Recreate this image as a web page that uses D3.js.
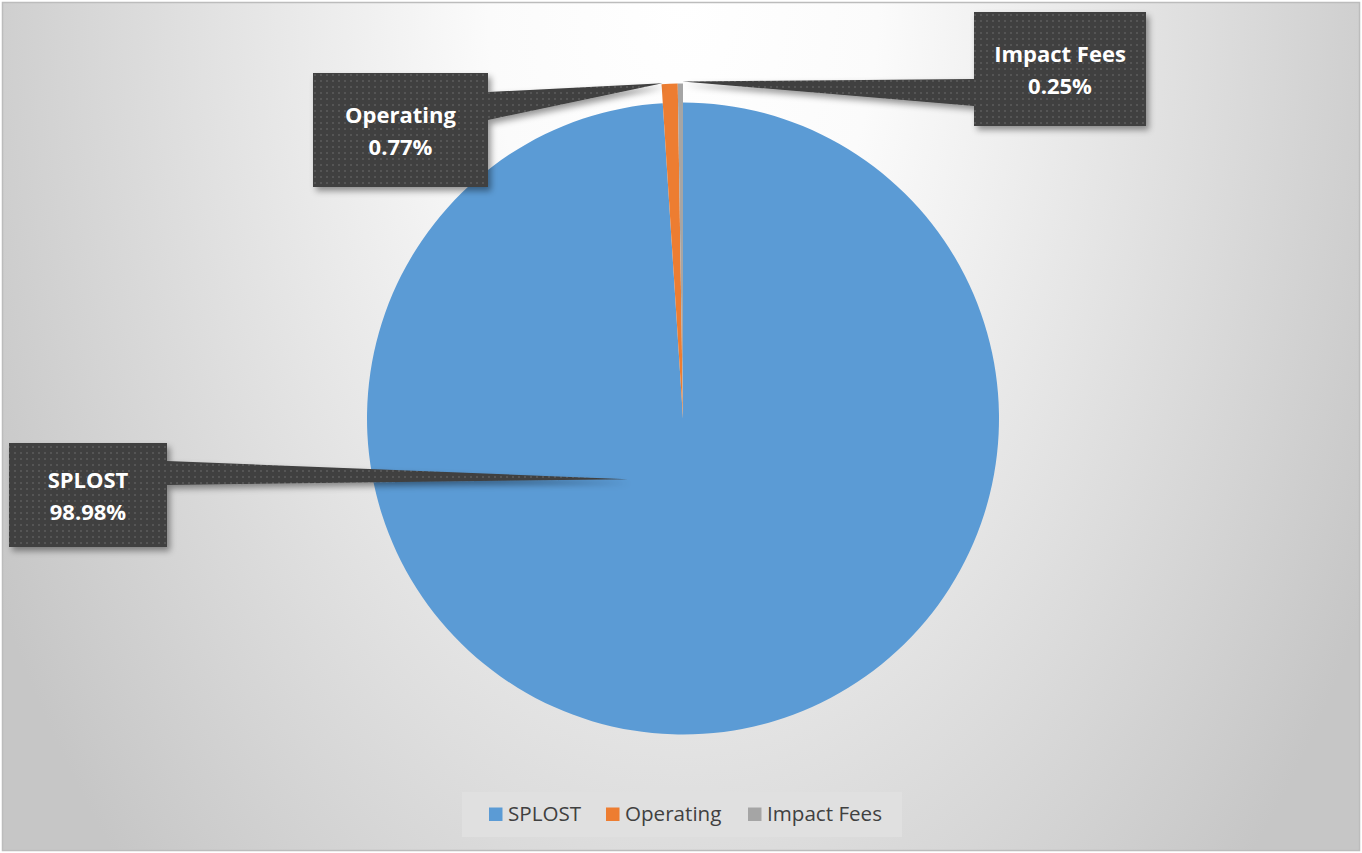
<!DOCTYPE html>
<html>
<head>
<meta charset="utf-8">
<script src="https://cdn.jsdelivr.net/npm/d3@7"></script>
<style>
  html, body { margin: 0; padding: 0; background: #ffffff; }
  svg { display: block; }
</style>
</head>
<body>
<svg id="chart" width="1362" height="853"></svg>
<script>
// ---- data ----
const categories = ["SPLOST", "Operating", "Impact Fees"];
const shares = [98.98, 0.77, 0.25];
const percentLabels = ["98.98%", "0.77%", "0.25%"];
const colors = ["#5b9bd5", "#ed7d31", "#a5a5a5"];

// ---- layout ----
const W = 1362, H = 853;
const cx = 683, cy = 418.5, R = 316, Rsmall = 335;
// label boxes: [x, y, w, h], pointer base on box side, tip given as polar (deg clockwise from top, radius)
const labelLayout = [
  { box: [9, 443, 158, 104], side: "right", base: [461, 485], tipAngle: 222.3, tipR: 82 },
  { box: [313, 73, 175, 114], side: "right", base: [92, 120], tipAngle: 356.5, tipR: 336 },
  { box: [974, 12, 172, 114], side: "left", base: [79, 106], tipAngle: 359.9, tipR: 337 }
];

const svg = d3.select("#chart");
const defs = svg.append("defs");

// background gradient
const grad = defs.append("radialGradient")
  .attr("id", "bg").attr("gradientUnits", "userSpaceOnUse")
  .attr("cx", 683).attr("cy", 0).attr("r", 780)
  .attr("gradientTransform", "translate(683,0) scale(1,1.6) translate(-683,0)");
grad.append("stop").attr("offset", "0").attr("stop-color", "#ffffff");
grad.append("stop").attr("offset", "0.25").attr("stop-color", "#fbfbfb");
grad.append("stop").attr("offset", "1").attr("stop-color", "#c6c6c6");

// dotted pattern for callouts
const pat = defs.append("pattern").attr("id", "dots")
  .attr("patternUnits", "userSpaceOnUse").attr("width", 6).attr("height", 6);
pat.append("rect").attr("width", 6).attr("height", 6).attr("fill", "#3f3f3f");
pat.append("rect").attr("x", 2).attr("y", 2).attr("width", 2).attr("height", 2).attr("fill", "#555555");

// shadow
const f = defs.append("filter").attr("id", "shadow")
  .attr("x", "-20%").attr("y", "-20%").attr("width", "150%").attr("height", "150%");
f.append("feDropShadow").attr("dx", 3).attr("dy", 4).attr("stdDeviation", 3)
  .attr("flood-color", "#000").attr("flood-opacity", 0.4);

svg.append("rect").attr("x", 0).attr("y", 0).attr("width", W).attr("height", H).attr("fill", "#ffffff");
svg.append("rect").attr("x", 2.5).attr("y", 2.5).attr("width", W - 5).attr("height", H - 5)
  .attr("fill", "url(#bg)").attr("stroke", "#bcbcbc").attr("stroke-width", 1.5);

// pie
const data = categories.map((c, i) => ({ name: c, value: shares[i], label: percentLabels[i], color: colors[i] }));
const pie = d3.pie().value(d => d.value).sort(null);
const arcs = pie(data);
const arcBig = d3.arc().innerRadius(0).outerRadius(R);
const arcSmall = d3.arc().innerRadius(0).outerRadius(Rsmall);

const g = svg.append("g").attr("transform", `translate(${cx},${cy})`);
g.selectAll("path.slice").data(arcs).join("path")
  .attr("class", "slice")
  .attr("d", (d, i) => (i === 0 ? arcBig(d) : arcSmall(d)))
  .attr("fill", d => d.data.color)
  .attr("stroke", "none");

// callouts
function polar(angDeg, r) {
  const a = angDeg * Math.PI / 180;
  return [cx + r * Math.sin(a), cy - r * Math.cos(a)];
}
const callG = svg.append("g");
arcs.forEach((d, i) => {
  const L = labelLayout[i];
  const [bx, by, bw, bh] = L.box;
  const tip = polar(L.tipAngle, L.tipR);
  const sx = L.side === "right" ? bx + bw : bx;
  let pts;
  if (L.side === "right") {
    pts = [[bx, by], [bx + bw, by], [sx, L.base[0]], tip, [sx, L.base[1]], [bx + bw, by + bh], [bx, by + bh]];
  } else {
    pts = [[bx, by], [bx + bw, by], [bx + bw, by + bh], [bx, by + bh], [sx, L.base[1]], tip, [sx, L.base[0]]];
  }
  callG.append("path")
    .attr("d", d3.line()(pts) + "Z")
    .attr("fill", "url(#dots)")
    .attr("filter", "url(#shadow)");
  const tx = bx + bw / 2, tc = by + bh / 2;
  const t = callG.append("text")
    .attr("text-anchor", "middle")
    .attr("font-family", "'Open Sans', 'Noto Sans', sans-serif")
    .attr("font-weight", "bold")
    .attr("font-size", 22)
    .attr("fill", "#ffffff");
  t.append("tspan").attr("x", tx).attr("y", tc - 7).text(d.data.name);
  t.append("tspan").attr("x", tx).attr("y", tc + 24.5).text(d.data.label);
});

// legend
const legG = svg.append("g");
legG.append("rect").attr("x", 462).attr("y", 792).attr("width", 440).attr("height", 45).attr("fill", "#e0e0e0");
const legX = [489, 606, 748];
data.forEach((d, i) => {
  legG.append("rect").attr("x", legX[i]).attr("y", 807.5).attr("width", 13.5).attr("height", 13.5).attr("fill", d.color);
  legG.append("text").attr("x", legX[i] + 19).attr("y", 821)
    .attr("font-family", "'Open Sans', 'Noto Sans', sans-serif")
    .attr("font-size", 20.6).attr("fill", "#404040").text(d.name);
});
</script>
</body>
</html>
